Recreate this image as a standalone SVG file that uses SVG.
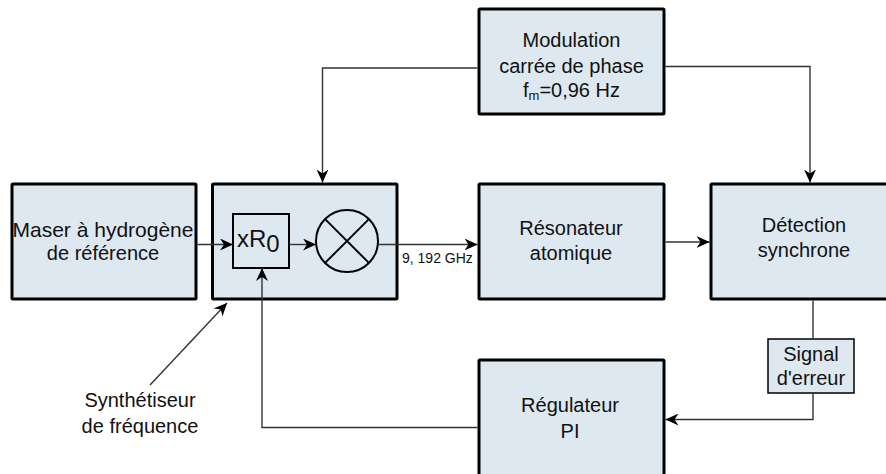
<svg xmlns="http://www.w3.org/2000/svg" width="886" height="474" viewBox="0 0 886 474">
<style>
.box{fill:#dee8f1;stroke:#000;stroke-width:3}
.sub{fill:#dee8f1;stroke:#000;stroke-width:1.5}
.inner{fill:none;stroke:#000;stroke-width:2}
.t{font-family:"Liberation Sans",Arial,sans-serif;font-size:20px;fill:#111;text-anchor:middle}
.small{font-family:"Liberation Sans",Arial,sans-serif;font-size:14px;fill:#111}
.c{fill:none;stroke:#333;stroke-width:1.4}
</style>
<defs>
<marker id="arr" markerUnits="userSpaceOnUse" markerWidth="14" markerHeight="12" refX="13" refY="6" orient="auto">
<path d="M0,0 L13,6 L0,12 L4,6 z" fill="#000"/>
</marker>
</defs>
<rect width="886" height="474" fill="#fff"/>
<g id="maser">
<rect class="box" x="12" y="184" width="184" height="115" rx="1"/>
<text class="t" x="103" y="237" style="font-size:21px">Maser à hydrogène</text>
<text class="t" x="103" y="260">de référence</text>
</g>
<g id="synthetiseur">
<rect class="box" x="212.5" y="184" width="184.5" height="115" rx="1"/>
<rect class="inner" x="233" y="214" width="56" height="54"/>
<text font-family="Liberation Sans, Arial, sans-serif" font-size="24" fill="#111" x="237" y="247">xR<tspan dy="5">0</tspan></text>
<circle class="inner" cx="347" cy="241" r="31"/>
<path class="inner" d="M325.1,219.1 L368.9,262.9 M368.9,219.1 L325.1,262.9"/>
</g>
<g id="resonateur">
<rect class="box" x="479" y="184" width="185" height="115" rx="1"/>
<text class="t" x="571" y="235">Résonateur</text>
<text class="t" x="571" y="260">atomique</text>
</g>
<g id="detection">
<rect class="box" x="711" y="184" width="190" height="115" rx="1"/>
<text class="t" x="804" y="232">Détection</text>
<text class="t" x="804" y="257">synchrone</text>
</g>
<g id="modulation">
<rect class="box" x="479" y="9" width="185" height="105" rx="1"/>
<text class="t" x="571.5" y="47">Modulation</text>
<text class="t" x="571.5" y="73">carrée de phase</text>
<text class="t" x="571.5" y="97">f<tspan font-size="13" dy="3">m</tspan><tspan dy="-3">=0,96 Hz</tspan></text>
</g>
<g id="signal">
<rect class="sub" x="768" y="339" width="86" height="54"/>
<text class="t" x="811" y="361">Signal</text>
<text class="t" x="811" y="385">d'erreur</text>
</g>
<g id="regulateur">
<rect class="box" x="479" y="360" width="185" height="125" rx="1"/>
<text class="t" x="570" y="412">Régulateur</text>
<text class="t" x="570" y="438">PI</text>
</g>
<g id="label-synth">
<text class="t" x="140" y="407">Synthétiseur</text>
<text class="t" x="140" y="433">de fréquence</text>
</g>
<text class="small" x="402" y="263">9, 192 GHz</text>
<g id="connectors">
<path class="c" d="M197.5,244.5 H233" marker-end="url(#arr)"/>
<path class="c" d="M289,244.5 H316" marker-end="url(#arr)"/>
<path class="c" d="M378,244.5 H477.5" marker-end="url(#arr)"/>
<path class="c" d="M665.5,242 H709.5" marker-end="url(#arr)"/>
<path class="c" d="M477.5,68 H322.5 V182.5" marker-end="url(#arr)"/>
<path class="c" d="M665.5,66.5 H810 V182.5" marker-end="url(#arr)"/>
<path class="c" d="M813,300.5 V339"/>
<path class="c" d="M813,393 V419.5 H665.5" marker-end="url(#arr)"/>
<path class="c" d="M477.5,427.5 H262 V268" marker-end="url(#arr)"/>
<path class="c" d="M150,385 L227,303" marker-end="url(#arr)"/>
</g>
</svg>
